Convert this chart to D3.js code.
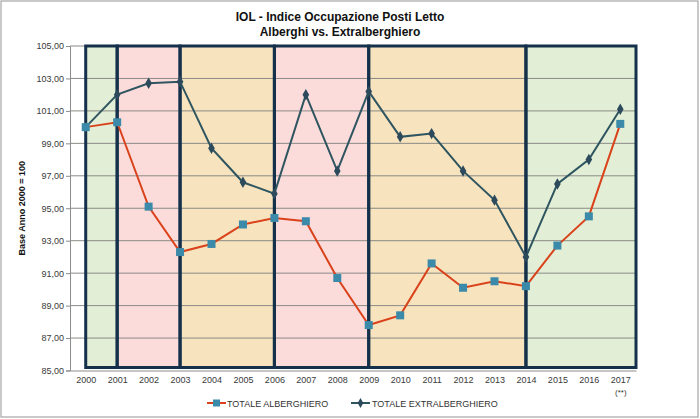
<!DOCTYPE html>
<html><head><meta charset="utf-8">
<script src="https://cdn.jsdelivr.net/npm/d3@7"></script>
<style>body{margin:0;background:#fff}svg{display:block;font-family:"Liberation Sans",Arial,sans-serif}</style>
</head><body>
<svg id="c" width="700" height="419"></svg>
<script>
const years = ["2000","2001","2002","2003","2004","2005","2006","2007","2008","2009","2010","2011","2012","2013","2014","2015","2016","2017"];
const alberghiero = [100.0,100.3,95.1,92.3,92.8,94.0,94.4,94.2,90.7,87.8,88.4,91.6,90.1,90.5,90.2,92.7,94.5,100.2];
const extralberghiero = [100.0,102.0,102.7,102.8,98.7,96.6,95.9,102.0,97.3,102.2,99.4,99.6,97.3,95.5,92.0,96.5,98.0,101.1];
const yTicks = [85,87,89,91,93,95,97,99,101,103,105];
const periodStart = ["2000","2001","2003","2006","2009","2014"];
const periodEnd   = ["2001","2003","2006","2009","2014","2017"];
const periodKind  = ["green","pink","orange","pink","orange","green"];
const seriesNames = ["TOTALE ALBERGHIERO","TOTALE EXTRALBERGHIERO"];

const fills = {green:"#e2efd6", pink:"#fcdcdb", orange:"#f7e3bd"};
const svg = d3.select("#c");
const L=70, R=636, T=46, B=370.5;
const x = d3.scalePoint().domain(years).range([L,R]).padding(0.5);
const y = d3.scaleLinear().domain([85,105]).range([B,T]);
const half = x.step()/2;

// outer border
svg.append("rect").attr("x",1).attr("y",1).attr("width",697).attr("height",416)
  .attr("fill","#fff").attr("stroke","#a6a6a6").attr("stroke-width",1.2);

// title
const title = svg.append("text").attr("x",340).attr("text-anchor","middle")
  .attr("font-weight","bold").attr("font-size",12).attr("fill","#111");
title.append("tspan").attr("x",340).attr("y",21).text("IOL - Indice Occupazione Posti Letto");
title.append("tspan").attr("x",340).attr("y",36).text("Alberghi vs. Extralberghiero");

// period fills
const periods = periodStart.map((s,i)=>({s, e:periodEnd[i], k:periodKind[i], last:i===periodStart.length-1}));
const px0 = d=>x(d.s), px1 = d=> d.last ? x(d.e)+half : x(d.e);
svg.append("g").selectAll("rect").data(periods).join("rect")
  .attr("x",px0).attr("y",y(105)).attr("width",d=>px1(d)-px0(d)).attr("height",y(85)-3-y(105))
  .attr("fill",d=>fills[d.k]);

// gridlines
svg.append("g").selectAll("line").data(yTicks.slice(1)).join("line")
  .attr("x1",L).attr("x2",R).attr("y1",d=>y(d)).attr("y2",d=>y(d))
  .attr("stroke","#8a8a86").attr("stroke-width",1);

// period borders
svg.append("g").selectAll("rect").data(periods).join("rect")
  .attr("x",px0).attr("y",y(105)).attr("width",d=>px1(d)-px0(d)).attr("height",y(85)-3-y(105))
  .attr("fill","none").attr("stroke","#14304a").attr("stroke-width",3);

// axes
const yAxis = d3.axisLeft(y).tickValues(yTicks).tickSize(4).tickFormat(d=>d3.format(".2f")(d).replace(".",","));
const gy = svg.append("g").attr("transform",`translate(${L},0)`).call(yAxis);
gy.select(".domain").attr("stroke","#8c8c8c");
gy.selectAll(".tick line").attr("stroke","#8c8c8c");
gy.selectAll(".tick text").attr("font-size",9).attr("fill","#3a3a3a").attr("font-family","Liberation Sans, Arial, sans-serif").attr("x",-6);

const xAxis = d3.axisBottom(x).tickSize(0).tickFormat(d=>d);
const gx = svg.append("g").attr("transform",`translate(0,${B})`).call(xAxis);
gx.select(".domain").attr("stroke","#8c8c8c");
gx.selectAll(".tick text").attr("font-size",9).attr("fill","#3a3a3a").attr("font-family","Liberation Sans, Arial, sans-serif").attr("dy","0.5em").attr("y",8);
gx.selectAll(".tick").filter(d=>d==="2017").append("text")
  .attr("y",20).attr("dy","0.5em").attr("fill","#3a3a3a").attr("font-size",8).attr("text-anchor","middle").text("(**)");

// y axis label
svg.append("text").attr("transform",`translate(25,${(T+B)/2}) rotate(-90)`).attr("text-anchor","middle")
  .attr("font-size",9).attr("font-weight","bold").attr("fill","#111").text("Base Anno 2000 = 100");

// lines
const lineGen = d3.line().x((d,i)=>x(years[i])).y(d=>y(d));
svg.append("path").datum(extralberghiero).attr("d",lineGen).attr("fill","none")
  .attr("stroke","#2f5560").attr("stroke-width",2);
svg.append("path").datum(alberghiero).attr("d",lineGen).attr("fill","none")
  .attr("stroke","#d9421b").attr("stroke-width",2);

const diamond = d3.symbol().type(d3.symbolDiamond).size(38);
svg.append("g").selectAll("path").data(extralberghiero).join("path")
  .attr("d",diamond).attr("transform",(d,i)=>`translate(${x(years[i])},${y(d)})`).attr("fill","#2c4a5c");
svg.append("g").selectAll("rect").data(alberghiero).join("rect")
  .attr("x",(d,i)=>x(years[i])-4).attr("y",d=>y(d)-4).attr("width",8).attr("height",8)
  .attr("fill","#3c8aaa");

// legend
const lg = svg.append("g");
const lx = [207, 351];
lg.append("line").attr("x1",lx[0]).attr("x2",lx[0]+19).attr("y1",403).attr("y2",403).attr("stroke","#d9421b").attr("stroke-width",2);
lg.append("rect").attr("x",lx[0]+6).attr("y",399.5).attr("width",7).attr("height",7).attr("fill","#3c8aaa");
lg.append("text").attr("x",lx[0]+20).attr("y",406.5).attr("font-size",9).attr("fill","#333").text(seriesNames[0]);
lg.append("line").attr("x1",lx[1]).attr("x2",lx[1]+19).attr("y1",403).attr("y2",403).attr("stroke","#2f5560").attr("stroke-width",2);
lg.append("path").attr("d",diamond.size(28)()).attr("transform",`translate(${lx[1]+9.5},403)`).attr("fill","#2c4a5c");
lg.append("text").attr("x",lx[1]+21).attr("y",406.5).attr("font-size",9).attr("fill","#333").text(seriesNames[1]);
</script>
</body></html>
